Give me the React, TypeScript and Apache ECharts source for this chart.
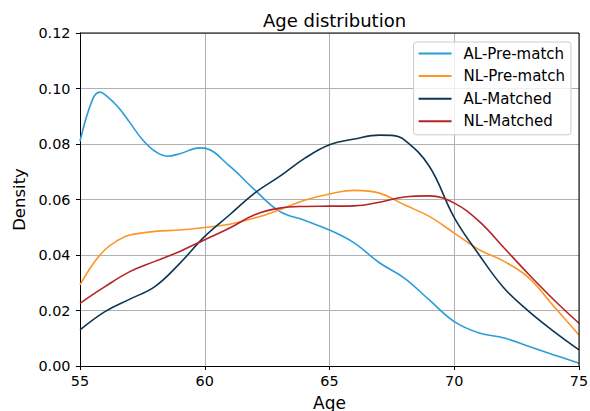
import React, { useEffect, useRef } from "react";
import * as echarts from "echarts";

// Kernel density estimates of age, sampled on a 1-year grid (with extra points where the curves bend sharply)
const alPreAges = [55, 55.5, 55.8, 56, 56.5, 57, 57.5, 58, 58.5, 59, 59.8, 60, 61, 62, 63, 64, 65, 66, 67, 68, 69, 70, 71, 72, 73, 74, 75];
const alPreMatch = [0.081, 0.096, 0.0987, 0.0978, 0.0936, 0.0877, 0.0816, 0.0774, 0.0756, 0.0765, 0.0786, 0.0785, 0.072, 0.0635, 0.0557, 0.0525, 0.049, 0.0443, 0.0372, 0.0317, 0.0238, 0.016, 0.0119, 0.0101, 0.007, 0.004, 0.001];

const nlPreAges = [55, 55.5, 56, 56.5, 57, 58, 59, 60, 61, 62, 63, 64, 65, 66, 67, 68, 69, 70, 71, 72, 73, 74, 75];
const nlPreMatch = [0.0292, 0.0365, 0.0419, 0.0452, 0.0472, 0.0485, 0.049, 0.0499, 0.0511, 0.0533, 0.0563, 0.0597, 0.062, 0.0633, 0.0623, 0.0581, 0.0539, 0.0479, 0.0419, 0.0377, 0.0317, 0.0214, 0.0112];

const alMatchedAges = [55, 56, 57, 58, 59, 60, 61, 62, 63, 64, 65, 66, 67, 67.5, 68, 69, 70, 71, 72, 73, 74, 75];
const alMatched = [0.013, 0.0196, 0.0241, 0.0286, 0.037, 0.0467, 0.0545, 0.0623, 0.0683, 0.0748, 0.0797, 0.0818, 0.0832, 0.0831, 0.0815, 0.072, 0.0535, 0.040, 0.028, 0.0196, 0.0124, 0.0058];

const nlMatchedAges = [55, 56, 57, 58, 59, 60, 61, 62, 63, 64, 65, 66, 67, 68, 69, 70, 71, 72, 73, 74, 75];
const nlMatched = [0.0226, 0.0286, 0.034, 0.0377, 0.0413, 0.0455, 0.0497, 0.0545, 0.0569, 0.0575, 0.0576, 0.0577, 0.059, 0.0609, 0.0613, 0.0587, 0.0521, 0.0425, 0.0329, 0.0238, 0.0154];

const seriesNames = ["AL-Pre-match", "NL-Pre-match", "AL-Matched", "NL-Matched"];
const seriesColors = ["#2b9cd8", "#fd9527", "#0d3552", "#b52327"];

const pairs = (xs: number[], ys: number[]) => xs.map((x, i) => [x, ys[i]]);

const FONT = "DejaVu Sans";

export default function App() {
  const ref = useRef<HTMLDivElement>(null);

  useEffect(() => {
    if (!ref.current) return;
    const chart = echarts.init(ref.current, undefined, { renderer: "svg" });
    const datasets = [
      pairs(alPreAges, alPreMatch),
      pairs(nlPreAges, nlPreMatch),
      pairs(alMatchedAges, alMatched),
      pairs(nlMatchedAges, nlMatched),
    ];
    chart.setOption({
      animation: false,
      backgroundColor: "#ffffff",
      textStyle: { fontFamily: FONT },
      title: {
        text: "Age distribution",
        left: 329.5,
        textAlign: "center",
        top: 6,
        textStyle: { fontFamily: FONT, fontSize: 18, fontWeight: "normal", color: "#000" },
      },
      legend: {
        orient: "vertical",
        right: 19,
        top: 42,
        data: seriesNames,
        icon: "rect",
        itemWidth: 33,
        itemHeight: 2,
        itemGap: 7.6,
        padding: [4, 6, 6, 5],
        borderColor: "#cccccc",
        borderWidth: 1,
        borderRadius: 3,
        backgroundColor: "rgba(255,255,255,0.8)",
        textStyle: { fontFamily: FONT, fontSize: 15, color: "#000", padding: [0, 0, 0, 7] },
      },
      grid: {
        left: 80,
        right: 11,
        top: 33,
        bottom: 45,
        containLabel: false,
        outerBoundsMode: "none",
        show: false,
      },
      xAxis: {
        type: "value",
        min: 55,
        max: 75,
        interval: 5,
        name: "Age",
        nameLocation: "middle",
        nameGap: 28,
        nameTextStyle: { fontFamily: FONT, fontSize: 17, color: "#000" },
        axisLine: { show: true, onZero: false, lineStyle: { color: "#000", width: 1 } },
        axisTick: { show: true, length: 4, lineStyle: { color: "#000" } },
        axisLabel: { fontFamily: FONT, fontSize: 14.4, color: "#000", margin: 8 },
        splitLine: { show: true, lineStyle: { color: "#b0b0b0", width: 1 } },
      },
      yAxis: {
        type: "value",
        min: 0,
        max: 0.12,
        interval: 0.02,
        name: "Density",
        nameLocation: "middle",
        nameGap: 48,
        nameRotate: 90,
        nameTextStyle: { fontFamily: FONT, fontSize: 16.5, color: "#000" },
        axisLine: { show: true, onZero: false, lineStyle: { color: "#000", width: 1 } },
        axisTick: { show: true, length: 4, lineStyle: { color: "#000" } },
        axisLabel: {
          fontFamily: FONT,
          fontSize: 14.4,
          color: "#000",
          margin: 9.5,
          formatter: (v: number) => v.toFixed(2),
        },
        splitLine: { show: true, lineStyle: { color: "#b0b0b0", width: 1 } },
      },
      graphic: [
        // top and right spines of the frame
        { type: "line", shape: { x1: 80, y1: 33, x2: 579, y2: 33 }, style: { stroke: "#000", lineWidth: 1 }, z: 10 },
        { type: "line", shape: { x1: 579, y1: 33, x2: 579, y2: 366 }, style: { stroke: "#000", lineWidth: 1 }, z: 10 },
      ],
      series: datasets.map((d, i) => ({
        name: seriesNames[i],
        type: "line",
        data: d,
        smooth: 0.4,
        showSymbol: false,
        symbol: "none",
        color: seriesColors[i],
        lineStyle: { color: seriesColors[i], width: 1.6 },
        clip: true,
      })),
    });
    return () => chart.dispose();
  }, []);

  return (
    <div
      ref={ref}
      style={{ position: "fixed", left: 0, top: 0, width: 590, height: 411, background: "#fff" }}
    />
  );
}
